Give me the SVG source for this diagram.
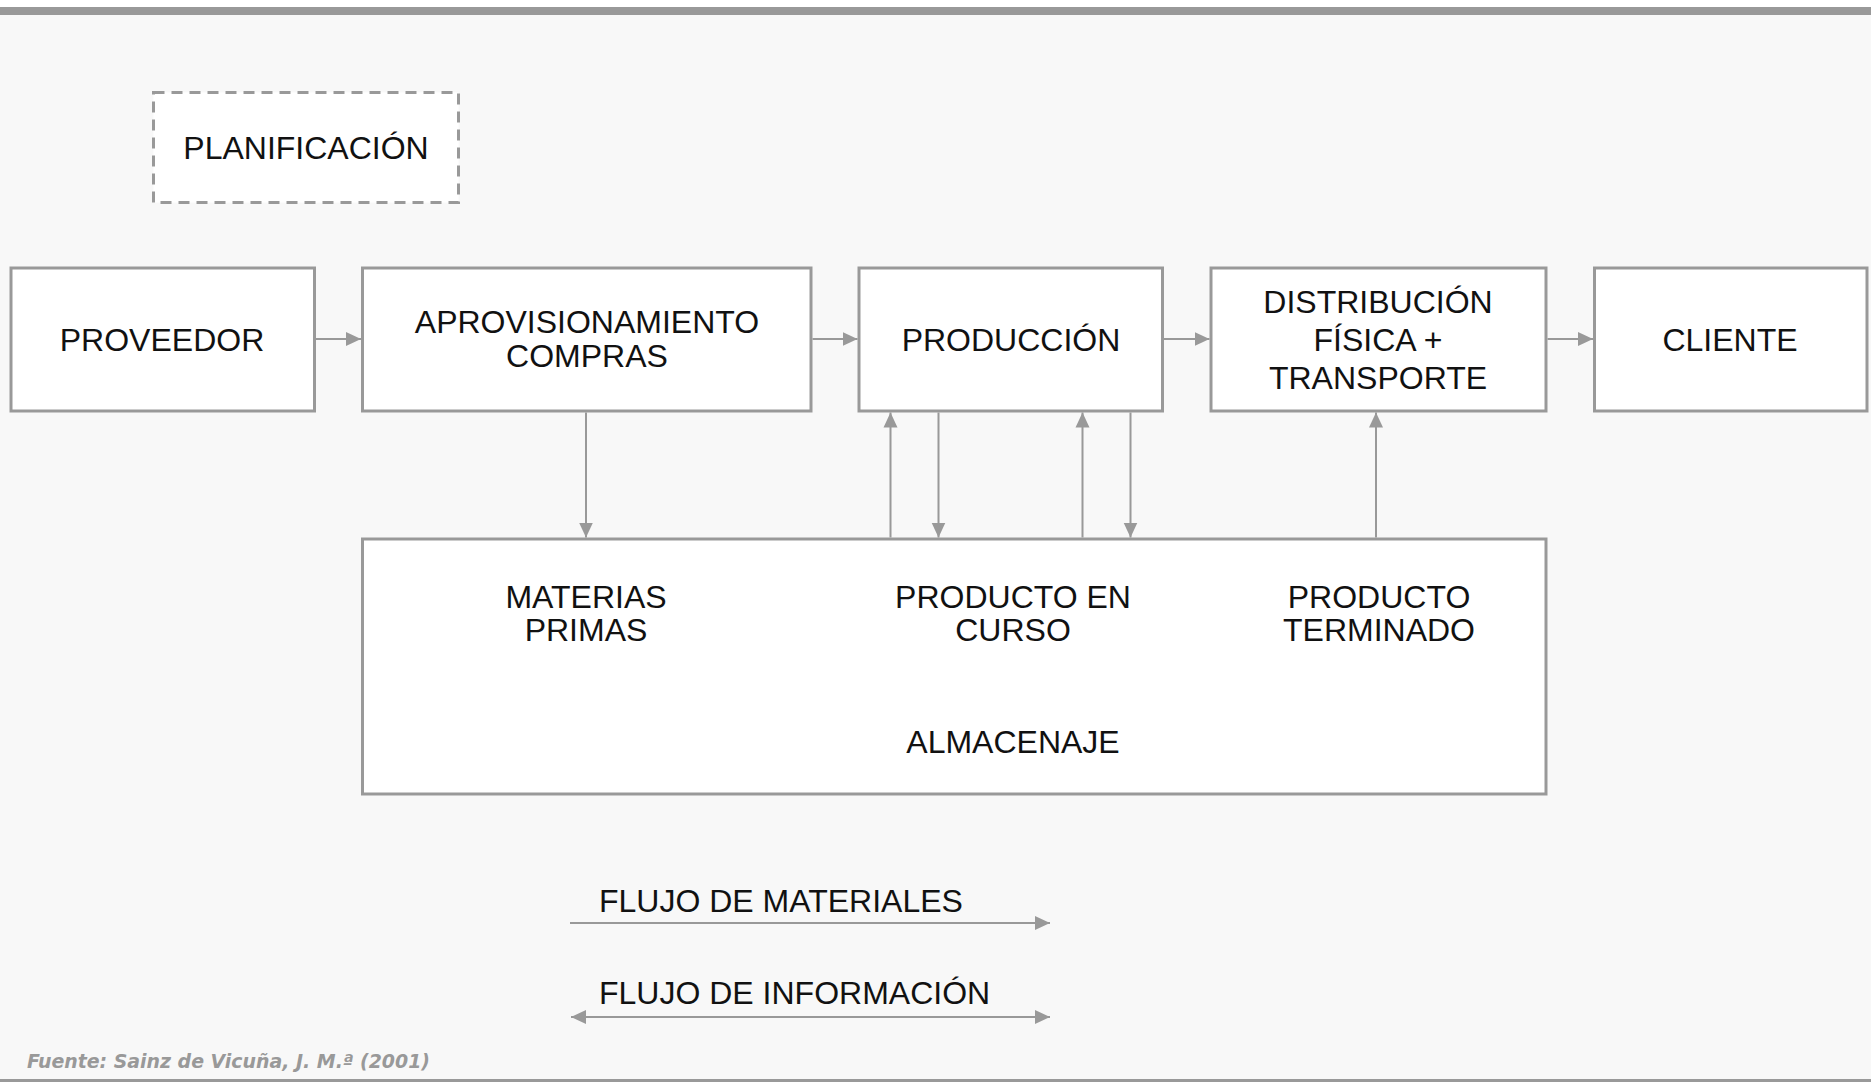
<svg xmlns="http://www.w3.org/2000/svg" width="1871" height="1082" viewBox="0 0 1871 1082">
<defs>
<marker id="ah" markerUnits="userSpaceOnUse" markerWidth="16" markerHeight="16" viewBox="0 0 16 16" refX="15" refY="8" orient="auto-start-reverse">
<path d="M0,1 L15,8 L0,15 z" fill="#999999"/>
</marker>
</defs>
<style>
.box{fill:#ffffff;stroke:#999999;stroke-width:3}
.dash{fill:#ffffff;stroke:#999999;stroke-width:3;stroke-dasharray:11 7}
.t{font-family:"Liberation Sans",Arial,sans-serif;font-size:32px;fill:#111111;text-anchor:middle}
.l{font-family:"Liberation Sans",Arial,sans-serif;font-size:32px;fill:#111111}
.c{stroke:#999999;stroke-width:2;fill:none;marker-end:url(#ah)}
.src{font-family:"DejaVu Sans Condensed","DejaVu Sans",sans-serif;font-size:19px;font-weight:bold;font-style:italic;fill:#999999}
</style>
<rect x="0" y="0" width="1871" height="1082" fill="#f8f8f8"/>
<rect x="0" y="0" width="1871" height="7" fill="#ffffff"/>
<rect x="0" y="7" width="1871" height="8" fill="#999999"/>
<rect x="0" y="1079" width="1871" height="3" fill="#999999"/>

<g id="planificacion">
<rect class="dash" x="153.5" y="92.5" width="305" height="110"/>
<text class="t" x="306" y="159">PLANIFICACIÓN</text>
</g>
<g id="proveedor">
<rect class="box" x="11" y="268" width="303.5" height="143"/>
<text class="t" x="162" y="351">PROVEEDOR</text>
</g>
<g id="aprovisionamiento">
<rect class="box" x="362.5" y="268" width="448.5" height="143"/>
<text class="t" x="587" y="333">APROVISIONAMIENTO</text>
<text class="t" x="587" y="367">COMPRAS</text>
</g>
<g id="produccion">
<rect class="box" x="859" y="268" width="303.5" height="143"/>
<text class="t" x="1011" y="351">PRODUCCIÓN</text>
</g>
<g id="distribucion">
<rect class="box" x="1211" y="268" width="335" height="143"/>
<text class="t" x="1378" y="313">DISTRIBUCIÓN</text>
<text class="t" x="1378" y="351">FÍSICA +</text>
<text class="t" x="1378" y="389">TRANSPORTE</text>
</g>
<g id="cliente">
<rect class="box" x="1594.5" y="268" width="272.5" height="143"/>
<text class="t" x="1730" y="351">CLIENTE</text>
</g>
<g id="almacenaje">
<rect class="box" x="362.5" y="539" width="1183.5" height="255"/>
<text class="t" x="586" y="608">MATERIAS</text>
<text class="t" x="586" y="641">PRIMAS</text>
<text class="t" x="1013" y="608">PRODUCTO EN</text>
<text class="t" x="1013" y="641">CURSO</text>
<text class="t" x="1379" y="608">PRODUCTO</text>
<text class="t" x="1379" y="641">TERMINADO</text>
<text class="t" x="1013" y="753">ALMACENAJE</text>
</g>

<g id="connectors">
<line class="c" x1="316" y1="339" x2="361" y2="339"/>
<line class="c" x1="812.5" y1="339" x2="857.5" y2="339"/>
<line class="c" x1="1164" y1="339" x2="1209.5" y2="339"/>
<line class="c" x1="1547.5" y1="339" x2="1593" y2="339"/>
<line class="c" x1="586" y1="412.5" x2="586" y2="537.5"/>
<line class="c" x1="890.5" y1="537.5" x2="890.5" y2="412.5"/>
<line class="c" x1="938.5" y1="412.5" x2="938.5" y2="537.5"/>
<line class="c" x1="1082.5" y1="537.5" x2="1082.5" y2="412.5"/>
<line class="c" x1="1130.5" y1="412.5" x2="1130.5" y2="537.5"/>
<line class="c" x1="1376" y1="537.5" x2="1376" y2="412.5"/>
</g>

<g id="legend">
<text class="l" x="599" y="912">FLUJO DE MATERIALES</text>
<line class="c" x1="570" y1="923" x2="1050" y2="923"/>
<text class="l" x="599" y="1004">FLUJO DE INFORMACIÓN</text>
<line class="c" x1="571" y1="1017" x2="1050" y2="1017" style="marker-start:url(#ah)"/>
</g>
<text class="src" x="27" y="1068" textLength="403" lengthAdjust="spacingAndGlyphs">Fuente: Sainz de Vicuña, J. M.ª (2001)</text>
</svg>
